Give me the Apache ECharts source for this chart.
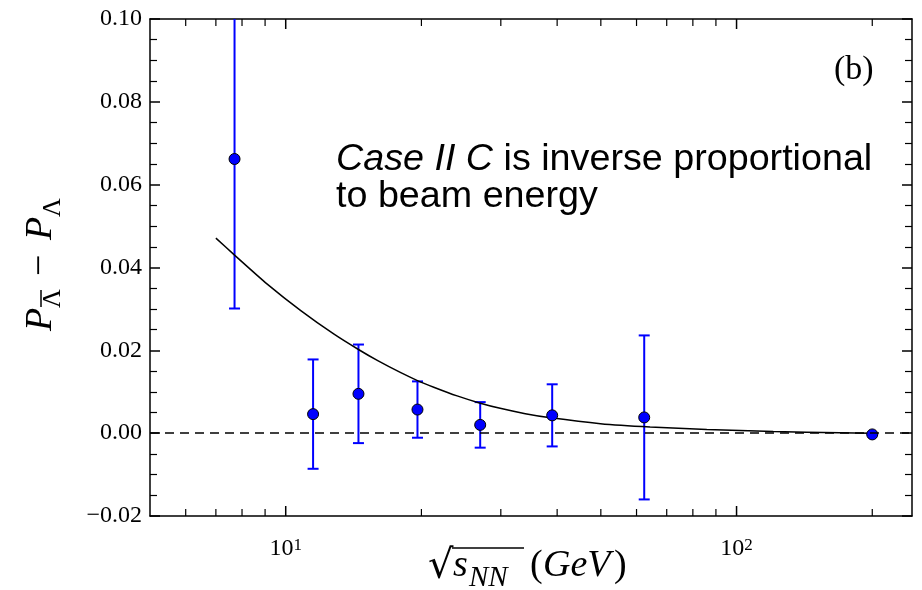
<!DOCTYPE html>
<html>
<head>
<meta charset="utf-8">
<script src="https://cdn.jsdelivr.net/npm/echarts@6/dist/echarts.min.js"></script>
<style>
  html, body { margin: 0; padding: 0; background: #fff; }
  #chart { width: 922px; height: 590px; }
</style>
</head>
<body>
<div id="chart"></div>
<script>
// Measured polarization difference vs collision energy
const energies = [7.7, 11.5, 14.5, 19.6, 27, 39, 62.4, 200];
const polDiff  = [0.0662, 0.0046, 0.0095, 0.0057, 0.0020, 0.0043, 0.0038, -0.0003];
const polErr   = [0.0361, 0.0132, 0.0119, 0.0068, 0.0055, 0.0075, 0.0198, 0.0001];

// Model curve (Case II, C ~ 1/sqrt(s))
const curveEnergy  = [7.0, 7.7, 9.1, 10.8, 12.8, 14.5, 16.0, 18.0, 19.6, 21.3, 24.0, 26.9, 29.9, 34.0, 38.7, 49.9, 64.3, 85.9, 120.6, 169.4, 200];
const curvePolDiff = [0.0471, 0.0430, 0.0360, 0.0296, 0.0239, 0.0202, 0.0175, 0.0146, 0.0127, 0.0111, 0.0090, 0.0073, 0.0060, 0.0047, 0.0037, 0.0023, 0.0015, 0.0009, 0.0004, 0.0001, 0.0000];

// Axis ranges and ticks
const xRange = [5, 245];
const yRange = [-0.02, 0.10];
const yStep = 0.02;
const xMajorTicks = [10, 100];
const xMinorTicks = [6, 7, 8, 9, 20, 30, 40, 50, 60, 70, 80, 90, 200];
const xTickLabels = ['10{sup|1}', '10{sup|2}'];

const serif = '"Liberation Serif", "DejaVu Serif", serif';
const sans = '"Liberation Sans", Arial, sans-serif';

const chart = echarts.init(document.getElementById('chart'), null, { renderer: 'canvas' });

const xTickData = xMajorTicks.map((v, i) => [v, 1, i]).concat(xMinorTicks.map(v => [v, 0, -1]));

const yAxisBase = {
  type: 'value',
  min: yRange[0],
  max: yRange[1],
  interval: yStep,
  splitLine: { show: false },
  axisLine: { show: true, onZero: false, lineStyle: { color: '#000', width: 1.5 } },
  axisTick: { show: true, inside: true, length: 10, lineStyle: { color: '#000', width: 1.5 } },
  minorTick: { show: true, splitNumber: 4, length: 7, lineStyle: { color: '#000', width: 1.2 } },
  minorSplitLine: { show: false }
};

const xAxisBase = {
  type: 'log',
  logBase: 10,
  min: xRange[0],
  max: xRange[1],
  splitLine: { show: false },
  axisLine: { show: true, onZero: false, lineStyle: { color: '#000', width: 1.5 } },
  axisTick: { show: false },
  axisLabel: { show: false }
};

const txt = (text, x, y, size, extra) => ({
  type: 'text', x, y, silent: true,
  style: Object.assign({ text, fontFamily: serif, fontSize: size, fill: '#000', align: 'left', verticalAlign: 'middle' }, extra || {})
});

const option = {
  animation: false,
  backgroundColor: '#fff',
  grid: { left: 150, right: 10, top: 19, bottom: 74, containLabel: false, outerBoundsMode: 'none' },
  xAxis: [
    Object.assign({}, xAxisBase, { position: 'bottom' }),
    Object.assign({}, xAxisBase, { position: 'top' })
  ],
  yAxis: [Object.assign({}, yAxisBase, {
    position: 'left',
    axisLabel: {
      show: true,
      margin: 8,
      color: '#000',
      fontFamily: serif,
      fontSize: 24,
      formatter: v => (v < 0 ? '\u2212' : '') + Math.abs(v).toFixed(2)
    }
  }), Object.assign({}, yAxisBase, {
    position: 'right',
    axisLabel: { show: false }
  })],
  series: [
    {
      // error bars
      type: 'custom',
      xAxisIndex: 0,
      yAxisIndex: 0,
      clip: true,
      z: 2,
      silent: true,
      data: energies.map((e, i) => [e, polDiff[i] - polErr[i], polDiff[i] + polErr[i]]),
      renderItem: (params, api) => {
        const lo = api.coord([api.value(0), api.value(1)]);
        const hi = api.coord([api.value(0), api.value(2)]);
        const cap = 5.5;
        const st = { stroke: '#0000ff', lineWidth: 2 };
        return {
          type: 'group',
          children: [
            { type: 'line', shape: { x1: lo[0], y1: lo[1], x2: hi[0], y2: hi[1] }, style: st },
            { type: 'line', shape: { x1: lo[0] - cap, y1: lo[1], x2: lo[0] + cap, y2: lo[1] }, style: st },
            { type: 'line', shape: { x1: hi[0] - cap, y1: hi[1], x2: hi[0] + cap, y2: hi[1] }, style: st }
          ]
        };
      }
    },
    {
      // model curve + zero reference
      type: 'line',
      xAxisIndex: 0,
      yAxisIndex: 0,
      z: 3,
      smooth: 0.25,
      showSymbol: false,
      silent: true,
      lineStyle: { color: '#000', width: 1.5 },
      data: curveEnergy.map((e, i) => [e, curvePolDiff[i]]),
      markLine: {
        silent: true,
        symbol: 'none',
        label: { show: false },
        lineStyle: { color: '#000', width: 1.5, type: [9, 6] },
        data: [{ yAxis: 0 }]
      }
    },
    {
      // data points
      type: 'scatter',
      xAxisIndex: 0,
      yAxisIndex: 0,
      z: 4,
      symbol: 'circle',
      symbolSize: 11,
      itemStyle: { color: '#0000ff', borderColor: '#000', borderWidth: 1, opacity: 1 },
      data: energies.map((e, i) => [e, polDiff[i]])
    },
    {
      // log-axis ticks (bottom and top, inward) with decade labels
      type: 'custom',
      xAxisIndex: 0,
      yAxisIndex: 0,
      clip: false,
      z: 5,
      silent: true,
      data: xTickData,
      renderItem: (params, api) => {
        const v = api.value(0);
        const major = api.value(1) === 1;
        const bot = api.coord([v, yRange[0]]);
        const top = api.coord([v, yRange[1]]);
        const len = major ? 10 : 7;
        const st = { stroke: '#000', lineWidth: major ? 1.5 : 1.2 };
        const children = [
          { type: 'line', shape: { x1: bot[0], y1: bot[1], x2: bot[0], y2: bot[1] - len }, style: st },
          { type: 'line', shape: { x1: top[0], y1: top[1], x2: top[0], y2: top[1] + len }, style: st }
        ];
        if (major) {
          children.push({
            type: 'text',
            x: bot[0],
            y: bot[1] + 21,
            style: {
              text: xTickLabels[api.value(2)],
              align: 'center',
              verticalAlign: 'top',
              fill: '#000',
              fontFamily: serif,
              fontSize: 24,
              rich: {
                sup: { fontFamily: serif, fontSize: 17, verticalAlign: 'top', lineHeight: 12, fill: '#000' }
              }
            }
          });
        }
        return { type: 'group', children };
      }
    }
  ],
  graphic: [
    {
      type: 'text',
      left: 336,
      top: 141,
      silent: true,
      style: {
        text: '{it|Case II C} is inverse proportional\nto beam energy',
        fontFamily: sans,
        fontSize: 37.7,
        lineHeight: 37,
        fill: '#000',
        rich: {
          it: { fontFamily: sans, fontStyle: 'italic', fontSize: 37.7, lineHeight: 37, fill: '#000' }
        }
      }
    },
    txt('(b)', 834, 70, 34),
    {
      // x-axis title: sqrt(s_NN) (GeV)
      type: 'group',
      silent: true,
      children: [
        txt('\u221A', 428, 568, 40, { fontFamily: '"DejaVu Serif", serif' }),
        { type: 'line', shape: { x1: 452, y1: 548, x2: 524, y2: 548 }, style: { stroke: '#000', lineWidth: 1.5 } },
        txt('s', 453, 566, 38, { fontStyle: 'italic' }),
        txt('NN', 469, 578, 29, { fontStyle: 'italic' }),
        txt('(', 530, 566, 38),
        txt('GeV', 543, 566, 38, { fontStyle: 'italic' }),
        txt(')', 614, 566, 38)
      ]
    },
    {
      // y-axis title: P_antiLambda - P_Lambda (rotated)
      type: 'group',
      x: 54,
      y: 331,
      rotation: Math.PI / 2,
      silent: true,
      children: [
        txt('P', 0, -13, 38, { fontStyle: 'italic' }),
        txt('\u039B', 23, -1, 26),
        { type: 'line', shape: { x1: 24, y1: -13, x2: 41, y2: -13 }, style: { stroke: '#000', lineWidth: 1.5 } },
        txt('\u2212', 55, -13, 38),
        txt('P', 91, -13, 38, { fontStyle: 'italic' }),
        txt('\u039B', 114, -1, 26)
      ]
    }
  ]
};

chart.setOption(option);
</script>
</body>
</html>
